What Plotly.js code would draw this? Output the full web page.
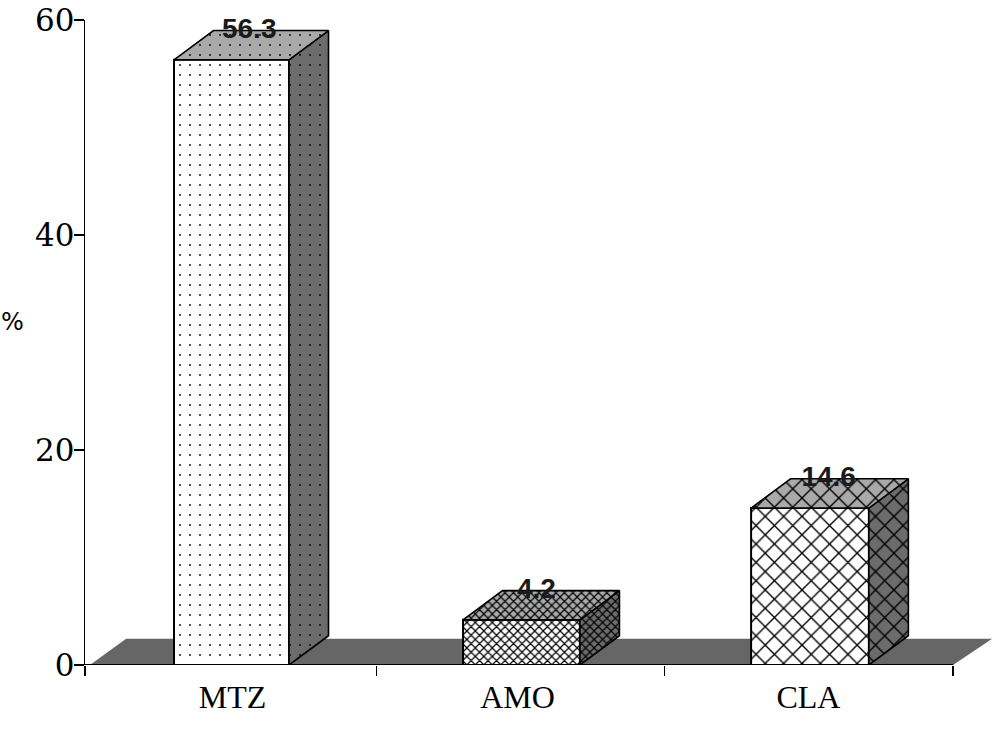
<!DOCTYPE html>
<html>
<head>
<meta charset="utf-8">
<script src="https://cdn.plot.ly/plotly-3.0.1.min.js"></script>
<style>html,body{margin:0;padding:0;background:#fff}</style>
</head>
<body>
<div id="chart" style="width:1000px;height:737px"></div>
<script>
const categories = ['MTZ', 'AMO', 'CLA'];
const values = [56.3, 4.2, 14.6];
const barLeft = [0.3076, 1.3065, 2.302];
const barWidth = [0.3975, 0.404, 0.407];
const labelPositions = [0.51, 1.495, 2.5];
const valueLabelX = [0.5675, 1.56, 2.57];
const boundaries = [0, 1.007, 2.002, 3];
const yTicks = [0, 20, 40, 60];
const depthX = 0.1365, depthY = 2.72;
const floorDepthX = 0.125, floorDepthY = 2.45;
const xMax = 3.138;
const patterns = [
  {shape: '.', size: 10, solidity: 0.025},
  {shape: 'x', size: 6, solidity: 0.36},
  {shape: 'x', size: 13, solidity: 0.2}
];
const frontColor = '#ffffff', topColor = '#a9a9a9', sideColor = '#6c6c6c', floorColor = '#666666';

const traces = [];
traces.push({
  type: 'scatter', mode: 'lines', fill: 'toself', fillcolor: floorColor,
  x: [0.017, 3, 3 + floorDepthX + 0.01, 0.017 + floorDepthX, 0.017],
  y: [0, 0, floorDepthY, floorDepthY, 0],
  line: {width: 0}, hoverinfo: 'skip', showlegend: false
});
traces.push({
  type: 'bar', xaxis: 'x2', yaxis: 'y2',
  base: 0, y: values,
  x: categories.map((c, i) => i + 0.5),
  width: barWidth,
  offset: barLeft.map((l, i) => l - (i + 0.5)),
  marker: {
    color: frontColor,
    line: {color: '#000', width: 2},
    pattern: {
      shape: patterns.map(p => p.shape),
      size: patterns.map(p => p.size),
      solidity: patterns.map(p => p.solidity),
      fgcolor: '#000', bgcolor: frontColor, fillmode: 'replace'
    }
  },
  hoverinfo: 'skip', showlegend: false
});
values.forEach((v, i) => {
  const l = barLeft[i], r = l + barWidth[i];
  const p = patterns[i];
  traces.push({
    type: 'scatter', mode: 'lines', xaxis: 'x2', yaxis: 'y2', fill: 'toself', cliponaxis: false,
    x: [r, r + depthX, r + depthX, r, r], y: [0, depthY, v + depthY, v, 0],
    fillcolor: sideColor,
    fillpattern: {shape: p.shape, size: p.size, solidity: p.solidity, fgcolor: '#000', bgcolor: sideColor},
    line: {color: '#000', width: 1.6}, hoverinfo: 'skip', showlegend: false
  });
  traces.push({
    type: 'scatter', mode: 'lines', xaxis: 'x2', yaxis: 'y2', fill: 'toself', cliponaxis: false,
    x: [l, l + depthX, r + depthX, r, l], y: [v, v + depthY, v + depthY, v, v],
    fillcolor: topColor,
    fillpattern: {shape: p.shape, size: p.size, solidity: p.solidity, fgcolor: '#000', bgcolor: topColor},
    line: {color: '#000', width: 1.6}, hoverinfo: 'skip', showlegend: false
  });
});
traces.push({
  type: 'scatter', mode: 'lines', xaxis: 'x2', yaxis: 'y2', cliponaxis: false,
  x: [boundaries[0], boundaries[3]], y: [0, 0],
  line: {color: '#000', width: 2}, hoverinfo: 'skip', showlegend: false
});
traces.push({
  type: 'scatter', mode: 'text', xaxis: 'x2', yaxis: 'y2', cliponaxis: false,
  x: valueLabelX,
  y: values.map(v => v + depthY),
  text: values.map(v => v.toFixed(1)),
  textposition: 'middle center',
  textfont: {family: 'Liberation Sans', size: 28, color: '#1a1a1a', weight: 700},
  hoverinfo: 'skip', showlegend: false
});

const layout = {
  width: 1000, height: 737,
  margin: {l: 85, r: 7, t: 20, b: 72},
  paper_bgcolor: '#fff', plot_bgcolor: '#fff',
  showlegend: false,
  xaxis: {
    range: [0, xMax], showgrid: false, zeroline: false, showline: false,
    tickmode: 'array', tickvals: labelPositions, ticktext: categories, ticks: '', ticklabelstandoff: 10,
    tickfont: {family: 'Liberation Serif', size: 32, color: '#000'},
    minor: {tickmode: 'array', tickvals: boundaries, ticks: 'outside', ticklen: 10, tickwidth: 1.4, tickcolor: '#000', showgrid: false}
  },
  yaxis: {
    range: [0, 60], showgrid: false, zeroline: false, showline: true,
    linecolor: '#000', linewidth: 1.4,
    tickmode: 'array', tickvals: yTicks, ticks: 'outside', ticklen: 10, tickwidth: 1.4, tickcolor: '#000',
    ticklabelstandoff: -7,
    tickfont: {family: 'DejaVu Serif', size: 31, color: '#000'}
  },
  xaxis2: {range: [0, xMax], overlaying: 'x', visible: false, anchor: 'y2'},
  yaxis2: {range: [0, 60], overlaying: 'y', visible: false, anchor: 'x2'},
  annotations: [{
    text: '%', xref: 'paper', yref: 'paper', x: -0.0795, y: 0.532, showarrow: false,
    xanchor: 'center', yanchor: 'middle', textangle: 0,
    font: {family: 'DejaVu Sans', size: 24, color: '#000'}
  }]
};
Plotly.newPlot('chart', traces, layout, {displayModeBar: false, staticPlot: true});
</script>
</body>
</html>
